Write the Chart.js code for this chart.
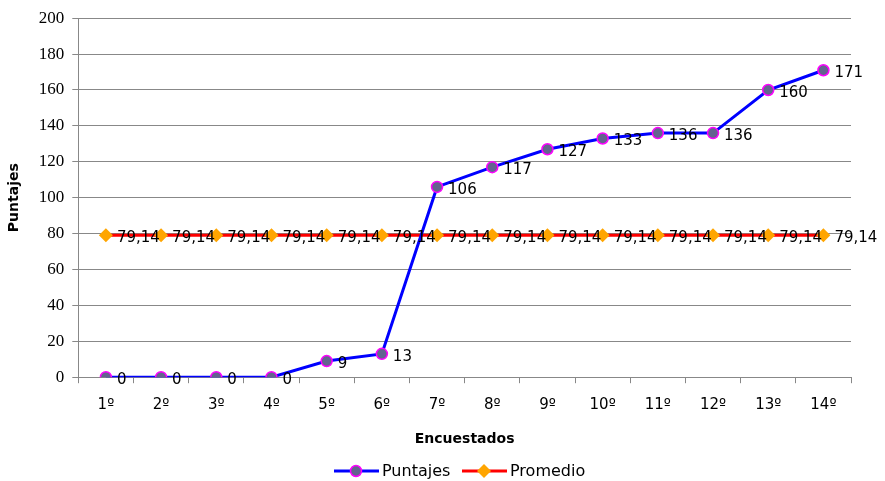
<!DOCTYPE html>
<html lang="es">
<head>
<meta charset="UTF-8">
<title>Puntajes</title>
<script src="https://cdn.jsdelivr.net/npm/chart.js"></script>
<style>
  body { margin: 0; background: #fff; }
  #wrap { width: 885px; height: 481px; }
</style>
</head>
<body>
<div id="wrap"><canvas id="chart" width="885" height="481"></canvas></div>
<script>
const encuestados = ['1º', '2º', '3º', '4º', '5º', '6º', '7º', '8º', '9º', '10º', '11º', '12º', '13º', '14º'];
const puntajes = [0, 0, 0, 0, 9, 13, 106, 117, 127, 133, 136, 136, 160, 171];
const promedio = [79.14, 79.14, 79.14, 79.14, 79.14, 79.14, 79.14, 79.14, 79.14, 79.14, 79.14, 79.14, 79.14, 79.14];
const yTicks = [0, 20, 40, 60, 80, 100, 120, 140, 160, 180, 200];

// value labels to the right of each point
const pointLabels = {
  id: 'pointLabels',
  afterDatasetsDraw(chart) {
    const ctx = chart.ctx;
    ctx.save();
    ctx.font = '15px "DejaVu Sans"';
    ctx.fillStyle = '#000';
    ctx.textAlign = 'left';
    ctx.textBaseline = 'middle';
    chart.data.datasets.forEach((ds, i) => {
      chart.getDatasetMeta(i).data.forEach((pt, j) => {
        const txt = ds.data[j].toString().replace('.', ',');
        ctx.fillText(txt, pt.x + 11, pt.y + 3);
      });
    });
    ctx.restore();
  }
};

// legend with line + marker, like the original
const bottomLegend = {
  id: 'bottomLegend',
  afterDraw(chart) {
    const ctx = chart.ctx;
    const y = 471;
    ctx.save();
    ctx.font = '16px "DejaVu Sans"';
    ctx.textBaseline = 'middle';
    ctx.textAlign = 'left';
    const items = [
      { text: 'Puntajes', line: '#0000ff', x: 334, marker: 'circle' },
      { text: 'Promedio', line: '#ff0000', x: 462, marker: 'diamond' }
    ];
    items.forEach(it => {
      ctx.strokeStyle = it.line;
      ctx.lineWidth = 3;
      ctx.beginPath();
      ctx.moveTo(it.x, y);
      ctx.lineTo(it.x + 45, y);
      ctx.stroke();
      const cx = it.x + 22;
      if (it.marker === 'circle') {
        ctx.beginPath();
        ctx.arc(cx, y, 5.5, 0, Math.PI * 2);
        ctx.fillStyle = '#63638f';
        ctx.fill();
        ctx.strokeStyle = '#ff00ff';
        ctx.lineWidth = 1.5;
        ctx.stroke();
      } else {
        ctx.beginPath();
        ctx.moveTo(cx, y - 7);
        ctx.lineTo(cx + 7, y);
        ctx.lineTo(cx, y + 7);
        ctx.lineTo(cx - 7, y);
        ctx.closePath();
        ctx.fillStyle = '#ffa500';
        ctx.fill();
      }
      ctx.fillStyle = '#000';
      ctx.fillText(it.text, it.x + 48, y + 1);
    });
    ctx.restore();
  }
};

new Chart(document.getElementById('chart'), {
  type: 'line',
  data: {
    labels: encuestados,
    datasets: [
      {
        label: 'Puntajes',
        data: puntajes,
        borderColor: '#0000ff',
        borderWidth: 3,
        backgroundColor: '#63638f',
        pointBackgroundColor: '#63638f',
        pointBorderColor: '#ff00ff',
        pointBorderWidth: 1.5,
        pointRadius: 5.5,
        tension: 0,
        order: 0
      },
      {
        label: 'Promedio',
        data: promedio,
        borderColor: '#ff0000',
        borderWidth: 3,
        pointStyle: 'rectRot',
        pointBackgroundColor: '#ffa500',
        pointBorderColor: '#ffa500',
        pointBorderWidth: 0,
        pointRadius: 7,
        tension: 0,
        order: 1
      }
    ]
  },
  options: {
    responsive: false,
    animation: false,
    layout: { padding: { top: 13, right: 34, bottom: 29, left: 2 } },
    plugins: {
      legend: { display: false },
      tooltip: { enabled: false }
    },
    scales: {
      x: {
        offset: true,
        grid: {
          offset: true,
          drawOnChartArea: false,
          color: '#888',
          tickLength: 6
        },
        border: { color: '#888' },
        ticks: {
          color: '#000',
          font: { family: 'DejaVu Sans', size: 15 },
          padding: 13
        },
        title: {
          display: true,
          text: 'Encuestados',
          color: '#000',
          font: { family: 'DejaVu Sans', size: 14, weight: 'bold' },
          padding: { top: 4 }
        }
      },
      y: {
        min: 0,
        max: 200,
        afterBuildTicks(axis) { axis.ticks = yTicks.map(v => ({ value: v })); },
        grid: { color: '#888', tickLength: 6 },
        border: { color: '#888' },
        ticks: {
          color: '#000',
          font: { family: 'Liberation Serif', size: 17 },
          padding: 8
        },
        title: {
          display: true,
          text: 'Puntajes',
          color: '#000',
          font: { family: 'DejaVu Sans', size: 14, weight: 'bold' },
          padding: { bottom: 8 }
        }
      }
    }
  },
  plugins: [pointLabels, bottomLegend]
});
</script>
</body>
</html>
